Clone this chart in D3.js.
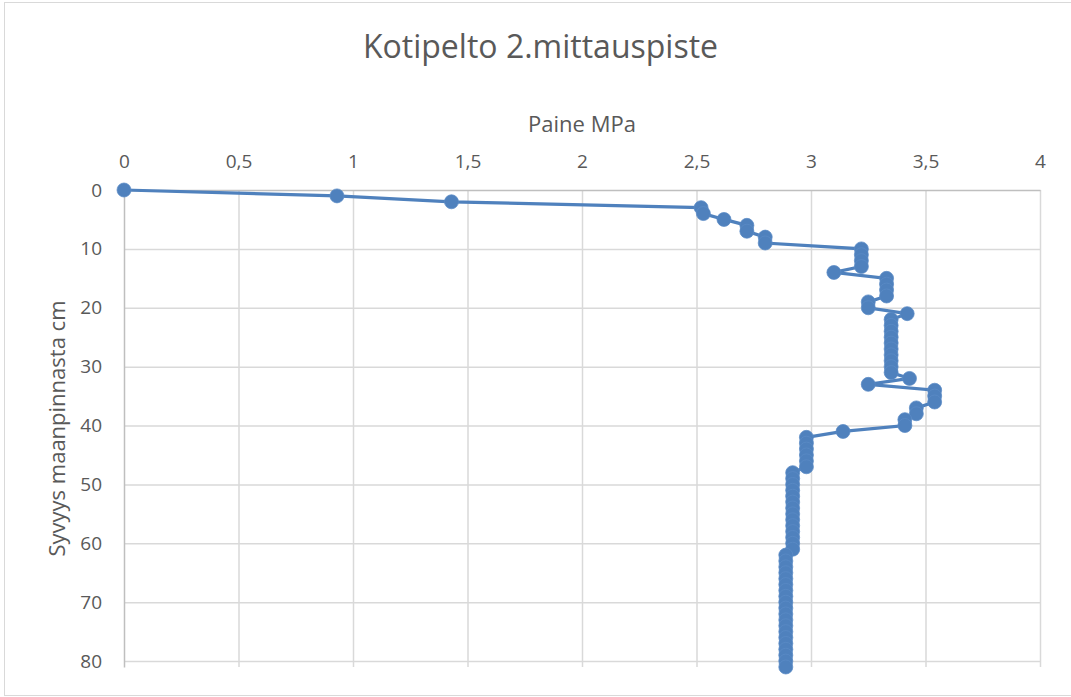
<!DOCTYPE html>
<html>
<head>
<meta charset="utf-8">
<script src="https://cdn.jsdelivr.net/npm/d3@7"></script>
<style>
	body { margin: 0; background: #fff; }
	text { font-family: "Open Sans", sans-serif; fill: #595959; }
</style>
</head>
<body>
<div id="chart"></div>
<script>
// depth in cm (y) and pressure in MPa (x)
var depth = [0, 1, 2, 3, 4, 5, 6, 7, 8, 9,
	10, 11, 12, 13, 14, 15, 16, 17, 18, 19,
	20, 21, 22, 23, 24, 25, 26, 27, 28, 29,
	30, 31, 32, 33, 34, 35, 36, 37, 38, 39,
	40, 41, 42, 43, 44, 45, 46, 47, 48, 49,
	50, 51, 52, 53, 54, 55, 56, 57, 58, 59,
	60, 61, 62, 63, 64, 65, 66, 67, 68, 69,
	70, 71, 72, 73, 74, 75, 76, 77, 78, 79,
	80, 81]
var pressure = [0, 0.93, 1.43, 2.52, 2.53, 2.62, 2.72, 2.72, 2.80, 2.80,
	3.22, 3.22, 3.22, 3.22, 3.10, 3.33, 3.33, 3.33, 3.33, 3.25,
	3.25, 3.42, 3.35, 3.35, 3.35, 3.35, 3.35, 3.35, 3.35, 3.35,
	3.35, 3.35, 3.43, 3.25, 3.54, 3.54, 3.54, 3.46, 3.46, 3.41,
	3.41, 3.14, 2.98, 2.98, 2.98, 2.98, 2.98, 2.98, 2.92, 2.92,
	2.92, 2.92, 2.92, 2.92, 2.92, 2.92, 2.92, 2.92, 2.92, 2.92,
	2.92, 2.92, 2.89, 2.89, 2.89, 2.89, 2.89, 2.89, 2.89, 2.89,
	2.89, 2.89, 2.89, 2.89, 2.89, 2.89, 2.89, 2.89, 2.89, 2.89,
	2.89, 2.89]
var xTicks = [0, 0.5, 1, 1.5, 2, 2.5, 3, 3.5, 4]
var yTicks = [0, 10, 20, 30, 40, 50, 60, 70, 80]

var title = "Kotipelto 2.mittauspiste"
var xTitle = "Paine MPa"
var yTitle = "Syvyys maanpinnasta cm"

drawchart()

function drawchart() {
	const W = 1071, H = 697;
	const margin = { top: 190, right: 31, bottom: 30, left: 124 };
	const width = W - margin.left - margin.right;
	const height = H - margin.top - margin.bottom;

	const data = depth.map((d, i) => ({ depth: d, p: pressure[i] }));

	const root = d3.select("#chart")
		.append("svg")
		.attr("width", W)
		.attr("height", H);

	// outer chart border
	root.append("rect")
		.attr("x", 4.5)
		.attr("y", 2.5)
		.attr("width", W + 10)
		.attr("height", 693)
		.attr("fill", "none")
		.attr("stroke", "#d9d9d9");

	root.append("text")
		.attr("x", W / 2 + 5)
		.attr("y", 58)
		.attr("text-anchor", "middle")
		.style("font-size", "32px")
		.text(title);

	const svg = root.append("g")
		.attr("transform", `translate(${margin.left},${margin.top})`);

	const x = d3.scaleLinear()
		.domain([0, 4])
		.range([0, width]);

	// axis max is 81 in the original, last labelled tick 80
	const y = d3.scaleLinear()
		.domain([0, 81])
		.range([0, height]);

	// gridlines
	svg.append("g")
		.selectAll("line")
		.data(xTicks.slice(1))
		.join("line")
		.attr("x1", d => x(d) + 0.5)
		.attr("x2", d => x(d) + 0.5)
		.attr("y1", 0)
		.attr("y2", height)
		.attr("stroke", "#d9d9d9")
		.attr("stroke-width", 1.5);

	svg.append("g")
		.selectAll("line")
		.data(yTicks.slice(1))
		.join("line")
		.attr("x1", 0)
		.attr("x2", width)
		.attr("y1", d => y(d) + 0.5)
		.attr("y2", d => y(d) + 0.5)
		.attr("stroke", "#d9d9d9")
		.attr("stroke-width", 1.5);

	const xAxis = d3.axisTop(x)
		.tickValues(xTicks)
		.tickSize(0)
		.tickPadding(22)
		.tickFormat(d => String(d).replace(".", ","));

	const yAxis = d3.axisLeft(y)
		.tickValues(yTicks)
		.tickSize(0)
		.tickPadding(22);

	svg.append("g")
		.attr("class", "x-axis")
		.call(xAxis);
	svg.append("g")
		.attr("class", "y-axis")
		.call(yAxis);

	svg.selectAll(".x-axis path, .y-axis path")
		.attr("stroke", "#bfbfbf")
		.attr("stroke-width", 1.5);
	svg.selectAll(".x-axis .tick text, .y-axis .tick text")
		.attr("fill", "#595959")
		.style("font-family", "Open Sans")
		.style("font-size", "19px");

	svg.append("text")
		.attr("x", width / 2)
		.attr("y", 132 - margin.top)
		.attr("text-anchor", "middle")
		.style("font-size", "22px")
		.text(xTitle);

	svg.append("text")
		.attr("transform", `translate(${65 - margin.left},${height / 2}) rotate(-90)`)
		.attr("text-anchor", "middle")
		.style("font-size", "22px")
		.text(yTitle);

	const line = d3.line()
		.x(d => x(d.p))
		.y(d => y(d.depth));

	svg.append("path")
		.datum(data)
		.attr("d", line)
		.attr("fill", "none")
		.attr("stroke", "#4f81bd")
		.attr("stroke-width", 3.25);

	svg.append("g")
		.selectAll("circle")
		.data(data)
		.join("circle")
		.attr("cx", d => x(d.p))
		.attr("cy", d => y(d.depth))
		.attr("r", 7)
		.attr("fill", "#4f81bd")
		.attr("stroke", "#5b8bc5")
		.attr("stroke-width", 0.75);
}
</script>
</body>
</html>
